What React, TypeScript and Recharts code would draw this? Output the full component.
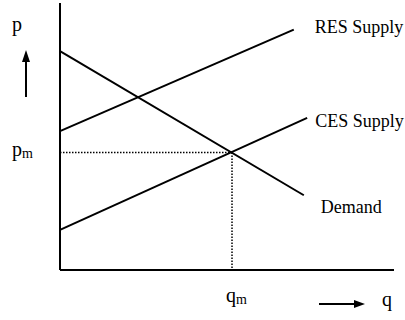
import React from 'react';
import { LineChart, Line, XAxis, YAxis, ReferenceLine, ReferenceDot } from 'recharts';

// quantity (q) and price (p) end points of each curve
const demandQ = [0, 73];
const demandP = [82, 28];
const resQ = [0, 70];
const resP = [52, 90];
const cesQ = [0, 74];
const cesP = [15, 57];

// market equilibrium
const eqQ = 51.5;
const eqP = 44;

const axisMax = 100;

const toPoints = (qs: number[], ps: number[]) => qs.map((q, i) => ({ q, p: ps[i] }));

const FONT = 'Liberation Serif';

interface TextMarkProps {
  cx?: number;
  cy?: number;
  text: string;
  sub?: string;
  dx: number;
  dy: number;
  size?: number;
}

const TextMark = ({ cx = 0, cy = 0, text, sub, dx, dy, size = 18 }: TextMarkProps) => (
  <text x={cx + dx} y={cy + dy} fontFamily={FONT} fontSize={size} fill="#000">
    {text}
    {sub && (
      <tspan fontSize={14} dy={2}>
        {sub}
      </tspan>
    )}
  </text>
);

const UpArrow = ({ cx = 0, cy = 0 }: { cx?: number; cy?: number }) => {
  const x = cx - 34;
  return (
    <g>
      <line x1={x} y1={cy + 94} x2={x} y2={cy + 58} stroke="#000" strokeWidth={2} />
      <polygon points={`${x - 4},${cy + 59} ${x + 4},${cy + 59} ${x},${cy + 47}`} fill="#000" />
    </g>
  );
};

const RightArrow = ({ cx = 0, cy = 0 }: { cx?: number; cy?: number }) => {
  const y = cy + 34;
  return (
    <g>
      <line x1={cx - 75} y1={y} x2={cx - 38} y2={y} stroke="#000" strokeWidth={2} />
      <polygon points={`${cx - 40},${y - 4} ${cx - 40},${y + 4} ${cx - 29},${y}`} fill="#000" />
    </g>
  );
};

const App: React.FC = () => {
  const demand = toPoints(demandQ, demandP);
  const res = toPoints(resQ, resP);
  const ces = toPoints(cesQ, cesP);
  const last = (arr: { q: number; p: number }[]) => arr[arr.length - 1];

  return (
    <div style={{ position: 'absolute', left: 0, top: 0, background: '#fff' }}>
      <LineChart width={405} height={320} margin={{ top: 3, right: 11, bottom: 50, left: 60 }}>
        <XAxis type="number" dataKey="q" domain={[0, axisMax]} hide />
        <YAxis type="number" dataKey="p" domain={[0, axisMax]} hide />

        {/* axes */}
        <ReferenceLine x={0} stroke="#000" strokeWidth={2} />
        <ReferenceLine y={0} stroke="#000" strokeWidth={2} />

        {/* equilibrium guides */}
        <ReferenceLine
          segment={[{ x: 0, y: eqP }, { x: eqQ, y: eqP }]}
          stroke="#000"
          strokeWidth={1.5}
          strokeDasharray="1.5 1.5"
        />
        <ReferenceLine
          segment={[{ x: eqQ, y: eqP }, { x: eqQ, y: 0 }]}
          stroke="#000"
          strokeWidth={1.5}
          strokeDasharray="1.5 1.5"
        />

        <Line data={demand} dataKey="p" stroke="#000" strokeWidth={2} dot={false} isAnimationActive={false} />
        <Line data={res} dataKey="p" stroke="#000" strokeWidth={2} dot={false} isAnimationActive={false} />
        <Line data={ces} dataKey="p" stroke="#000" strokeWidth={2} dot={false} isAnimationActive={false} />

        {/* curve labels */}
        <ReferenceDot x={last(res).q} y={last(res).p} shape={(pr: any) => <TextMark {...pr} text="RES Supply" dx={21} dy={3} />} />
        <ReferenceDot x={last(ces).q} y={last(ces).p} shape={(pr: any) => <TextMark {...pr} text="CES Supply" dx={8} dy={9} />} />
        <ReferenceDot x={last(demand).q} y={last(demand).p} shape={(pr: any) => <TextMark {...pr} text="Demand" dx={17} dy={18} />} />

        {/* axis labels */}
        <ReferenceDot x={0} y={axisMax} shape={(pr: any) => <TextMark {...pr} text="p" size={20} dx={-48} dy={28} />} />
        <ReferenceDot x={0} y={axisMax} shape={(pr: any) => <UpArrow {...pr} />} />
        <ReferenceDot x={0} y={eqP} shape={(pr: any) => <TextMark {...pr} text="p" sub="m" size={20} dx={-48} dy={3} />} />
        <ReferenceDot x={eqQ} y={0} shape={(pr: any) => <TextMark {...pr} text="q" sub="m" size={20} dx={-6} dy={32} />} />
        <ReferenceDot x={axisMax} y={0} shape={(pr: any) => <RightArrow {...pr} />} />
        <ReferenceDot x={axisMax} y={0} shape={(pr: any) => <TextMark {...pr} text="q" size={20} dx={-12} dy={36} />} />
      </LineChart>
    </div>
  );
};

export default App;
